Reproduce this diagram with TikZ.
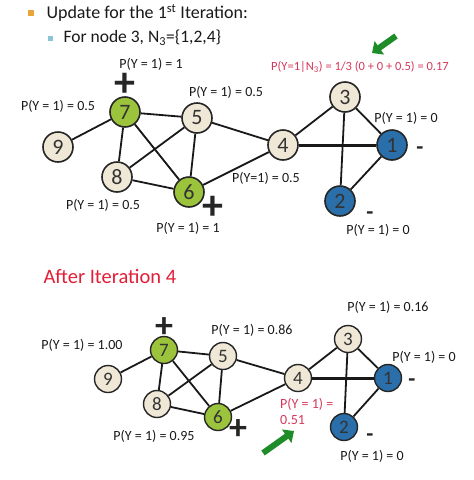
\documentclass[tikz,border=0pt]{standalone}
\usepackage{fontspec}
\setmainfont{Carlito}
\usetikzlibrary{arrows.meta}

\definecolor{nodegreen}{RGB}{155,195,60}
\definecolor{nodecream}{RGB}{240,232,214}
\definecolor{nodeblue}{RGB}{42,110,170}
\definecolor{redtext}{RGB}{225,30,55}
\definecolor{pinktext}{RGB}{215,55,90}
\definecolor{arrowgreen}{RGB}{30,140,40}
\definecolor{bulletgold}{RGB}{232,165,60}
\definecolor{bulletblue}{RGB}{140,195,215}

\begin{document}
\begin{tikzpicture}[
        x=1pt, y=-1pt,
        % vertex styles
        vtx/.style={
            circle,
            draw=black!85,
            line width=1.6pt,
            minimum size=30pt,
            inner sep=0pt,
            text=black!80,
            font=\fontsize{22}{22}\selectfont
        },
        small/.style={
            minimum size=27pt,
            line width=1.4pt,
            font=\fontsize{19}{19}\selectfont
        },
        posnode/.style={vtx, fill=nodegreen},
        unknode/.style={vtx, fill=nodecream},
        negnode/.style={vtx, fill=nodeblue},
        % edge styles
        edge/.style={line width=1.8pt, black!90},
        strong/.style={line width=3pt, black!90},
        % label styles
        prob/.style={font=\fontsize{14}{16}\selectfont, text=black!90, inner sep=0pt},
        plussign/.style={font=\bfseries\fontsize{42}{42}\selectfont, text=black!85,
            inner sep=0pt, text height=18pt, text depth=0pt, anchor=base, yshift=-15pt},
        smallplus/.style={font=\bfseries\fontsize{36}{36}\selectfont, text=black!85,
            inner sep=0pt, text height=16pt, text depth=0pt, anchor=base, yshift=-12pt},
        minussign/.style={font=\bfseries\fontsize{23}{23}\selectfont, text=black!85,
            inner sep=0pt, text height=9pt, text depth=0pt, anchor=base, yshift=-7.4pt},
        hint/.style={line width=6pt, arrowgreen, -{Triangle[length=9pt, width=16pt]}}
    ]
    \useasboundingbox (0,0) rectangle (474,480);

    % 1. heading
    \node[fill=bulletgold, minimum size=6pt, inner sep=0pt] (bul1) at (31,13) {};
    \node[anchor=west, font=\fontsize{18}{20}\selectfont, text=black!90] (head1) at (43,13)
        {Update for the 1\textsuperscript{st} Iteration:};
    \node[fill=bulletblue, minimum size=5pt, inner sep=0pt] (bul2) at (50,38) {};
    \node[anchor=west, font=\fontsize{17.5}{18}\selectfont, text=black!90] (head2) at (60,38)
        {For node 3, N\textsubscript{3}=\{1,2,4\}};

    % 2. first iteration graph
    \node[posnode] (a7) at (125,112) {7};
    \node[unknode] (a5) at (197,118) {5};
    \node[unknode] (a9) at (58,147) {9};
    \node[unknode] (a8) at (117,177) {8};
    \node[posnode] (a6) at (189,192) {6};
    \node[unknode] (a4) at (283,145) {4};
    \node[unknode] (a3) at (345,97) {3};
    \node[negnode] (a1) at (392,145) {1};
    \node[negnode] (a2) at (340,201) {2};

    \draw[edge] (a9) -- (a7);
    \draw[edge] (a7) -- (a5);
    \draw[edge] (a7) -- (a8);
    \draw[edge] (a7) -- (a6);
    \draw[edge] (a5) -- (a8);
    \draw[edge] (a5) -- (a6);
    \draw[edge] (a5) -- (a4);
    \draw[edge] (a8) -- (a6);
    \draw[edge] (a6) -- (a4);
    \draw[edge] (a4) -- (a3);
    \draw[strong] (a4) -- (a1);
    \draw[edge] (a3) -- (a1);
    \draw[edge] (a3) -- (a2);
    \draw[edge] (a2) -- (a1);

    % labels of the first graph
    \node[prob] (la7) at (151,64) {P(Y = 1) = 1};
    \node[plussign] (sa7) at (125,81) {+};
    \node[prob] (la9) at (58,106) {P(Y = 1) = 0.5};
    \node[prob] (la5) at (226,92) {P(Y = 1) = 0.5};
    \node[prob] (la8) at (103,205) {P(Y = 1) = 0.5};
    \node[plussign] (sa6) at (213,204) {+};
    \node[prob] (la6) at (188,228) {P(Y = 1) = 1};
    \node[prob] (la4) at (266,178) {P(Y=1) = 0.5};
    \node[prob, font=\fontsize{12.5}{14}\selectfont, text=pinktext] (la3) at (360,67)
        {P(Y=1|N\textsubscript{3}) = 1/3 (0 + 0 + 0.5) = 0.17};
    \node[prob] (la1) at (406,118) {P(Y = 1) = 0};
    \node[minussign] (sa1) at (420,147) {-};
    \node[minussign] (sa2) at (370,212) {-};
    \node[prob] (la2) at (378,230) {P(Y = 1) = 0};
    \coordinate (hint1) at (396,36);
    \coordinate (hint1tip) at (372,53);
    \draw[hint] (hint1) -- (hint1tip);

    % 3. after iteration 4
    \node[anchor=west, font=\fontsize{20.5}{22}\selectfont, text=redtext] (head3) at (40,276)
        {After Iteration 4};

    \node[posnode, small] (b7) at (164,350) {7};
    \node[unknode, small] (b5) at (223,356) {5};
    \node[unknode, small] (b9) at (108,379) {9};
    \node[unknode, small] (b8) at (157,404) {8};
    \node[posnode, small] (b6) at (218,417) {6};
    \node[unknode, small] (b4) at (298,378) {4};
    \node[unknode, small] (b3) at (348,339) {3};
    \node[negnode, small] (b1) at (388,378) {1};
    \node[negnode, small] (b2) at (344,427) {2};

    \draw[edge] (b9) -- (b7);
    \draw[edge] (b7) -- (b5);
    \draw[edge] (b7) -- (b8);
    \draw[edge] (b7) -- (b6);
    \draw[edge] (b5) -- (b8);
    \draw[edge] (b5) -- (b6);
    \draw[edge] (b5) -- (b4);
    \draw[edge] (b8) -- (b6);
    \draw[edge] (b6) -- (b4);
    \draw[edge] (b4) -- (b3);
    \draw[strong] (b4) -- (b1);
    \draw[edge] (b3) -- (b1);
    \draw[edge] (b3) -- (b2);
    \draw[edge] (b2) -- (b1);

    % labels of the second graph
    \node[smallplus] (sb7) at (164,325) {+};
    \node[prob] (lb7) at (82,345) {P(Y = 1) = 1.00};
    \node[prob] (lb5) at (252,330) {P(Y = 1) = 0.86};
    \node[prob] (lb3) at (388,307) {P(Y = 1) = 0.16};
    \node[prob] (lb1) at (424,357) {P(Y = 1) = 0};
    \node[minussign] (sb1) at (412,379) {-};
    \node[prob, text=pinktext, align=left, anchor=north west] (lb4) at (280,398)
        {P(Y = 1) =\\0.51};
    \node[smallplus] (sb6) at (238,427) {+};
    \node[minussign] (sb2) at (370,434) {-};
    \node[prob] (lb2) at (372,456) {P(Y = 1) = 0};
    \node[prob] (lb8) at (154,436) {P(Y = 1) = 0.95};
    \coordinate (hint2) at (263,453);
    \coordinate (hint2tip) at (294,431);
    \draw[hint] (hint2) -- (hint2tip);

\end{tikzpicture}
\end{document}
